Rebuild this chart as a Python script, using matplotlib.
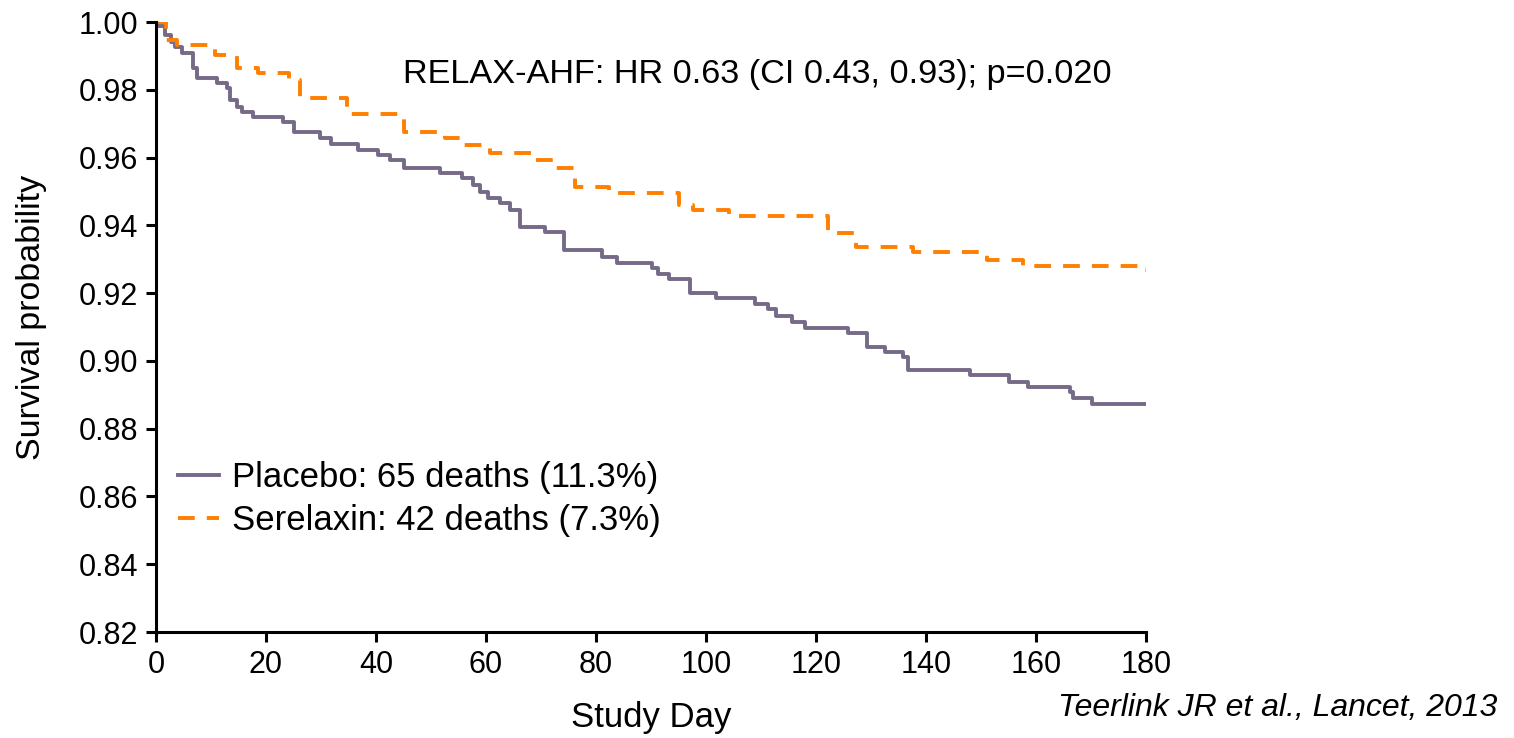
import numpy as np
import matplotlib
matplotlib.use('Agg')
import matplotlib.pyplot as plt

plt.rcParams['font.family'] = ['Liberation Sans', 'DejaVu Sans']

# Kaplan-Meier step points (day, survival)
placebo_day = [0, 0.4, 1.6, 2.8, 3.5, 4.7, 6.8, 7.4, 11.0, 12.9,
               13.5, 14.7, 15.6, 17.7, 23.1, 25.0, 29.8, 31.9, 36.8, 40.4,
               42.5, 45.0, 51.6, 55.6, 57.7, 58.9, 60.4, 62.5, 64.4, 66.2,
               70.7, 74.1, 81.0, 83.8, 90.1, 91.3, 93.2, 97.1, 101.9, 108.9,
               111.3, 112.8, 115.6, 118.0, 125.9, 129.2, 132.5, 135.9, 136.8, 148.0,
               155.0, 158.6, 166.2, 166.8, 170.1, 180]
placebo_surv = [1.000, 0.9988, 0.9962, 0.994, 0.9927, 0.991, 0.9863, 0.9834, 0.9819, 0.9804,
                0.977, 0.975, 0.9735, 0.9719, 0.9706, 0.9675, 0.9657, 0.9639, 0.9622, 0.9608,
                0.9593, 0.957, 0.9553, 0.9539, 0.9519, 0.9499, 0.948, 0.9465, 0.9445, 0.9396,
                0.938, 0.9327, 0.9307, 0.929, 0.9273, 0.9256, 0.9241, 0.9201, 0.9187, 0.9168,
                0.9152, 0.9133, 0.9116, 0.9098, 0.9083, 0.9042, 0.9027, 0.9011, 0.8973, 0.8958,
                0.8939, 0.8922, 0.8907, 0.8891, 0.8872, 0.8872]

serelaxin_day = [0, 1.9, 3.8, 10.7, 14.7, 18.6, 24.1, 26.2, 34.7, 45.0,
                 52.5, 55.9, 60.7, 68.6, 72.3, 76.2, 82.4, 95.0, 97.7, 104.1,
                 122.2, 127.3, 137.7, 151.0, 157.7, 179.8, 180]
serelaxin_surv = [1.000, 0.9947, 0.9932, 0.9903, 0.9863, 0.9849, 0.9829, 0.9775, 0.9728, 0.9676,
                  0.9657, 0.9637, 0.9613, 0.9593, 0.9568, 0.9514, 0.9494, 0.946, 0.9445, 0.9428,
                  0.9377, 0.9337, 0.9322, 0.9298, 0.9281, 0.9268, 0.9268]

x_ticks = [0, 20, 40, 60, 80, 100, 120, 140, 160, 180]
y_ticks = [0.82, 0.84, 0.86, 0.88, 0.90, 0.92, 0.94, 0.96, 0.98, 1.00]

labels = ['Placebo: 65 deaths (11.3%)', 'Serelaxin: 42 deaths (7.3%)']
purple = '#766a88'
orange = '#ff8000'

fig = plt.figure(figsize=(15.14, 7.38), dpi=100)
ax = fig.add_axes([156 / 1514, 1 - 632 / 738, 990 / 1514, 610 / 738])

ax.step(placebo_day, placebo_surv, where='post', color=purple, lw=2.8,
        label=labels[0])
ax.step(serelaxin_day, serelaxin_surv, where='post', color=orange, lw=2.8,
        dashes=(4.3, 3.1), dash_capstyle='butt', label=labels[1])

ax.set_xlim(0, 180)
ax.set_ylim(0.82, 1.00)
ax.set_xticks(x_ticks)
ax.set_yticks(y_ticks)
ax.set_yticklabels(['%.2f' % v for v in y_ticks])
ax.tick_params(labelsize=22, width=2.2, length=7, direction='out', pad=6)
for s in ['top', 'right']:
    ax.spines[s].set_visible(False)
for s in ['left', 'bottom']:
    ax.spines[s].set_linewidth(2.2)

ax.set_xlabel('Study Day', fontsize=25)
ax.set_ylabel('Survival probability', fontsize=24.5)
ax.xaxis.set_label_coords((651 - 156) / 990, (632 - 718) / 610)
ax.yaxis.set_label_coords((32 - 156) / 990, (632 - 317) / 610)
ax.xaxis.label.set_va('center')
ax.yaxis.label.set_va('center')

fig.text(757 / 1514, 1 - 75 / 738, 'RELAX-AHF: HR 0.63 (CI 0.43, 0.93); p=0.020',
         fontsize=24.7, ha='center', va='center')
fig.text(1497 / 1514, 1 - 708 / 738, 'Teerlink JR et al., Lancet, 2013',
         fontsize=23, style='italic', ha='right', va='center')

ax.legend(loc='upper left', bbox_to_anchor=(0.008, 0.303), frameon=False,
          fontsize=25, handlelength=1.2, handletextpad=0.35, labelspacing=0.3,
          borderaxespad=0)

fig.savefig('out.png', dpi=100)
